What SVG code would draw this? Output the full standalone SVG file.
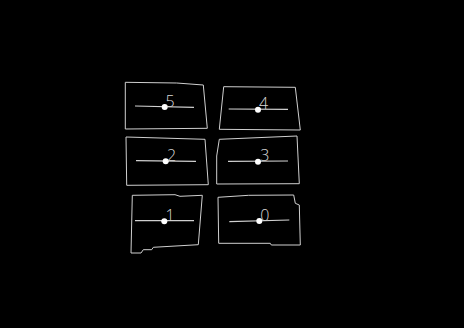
<svg xmlns="http://www.w3.org/2000/svg" width="464" height="328" viewBox="0 0 464 328">
<style>
.b{fill:none;stroke:#d0d0d0;stroke-width:1}
.l{stroke:#d0d0d0;stroke-width:1.2}
.d{fill:#fff}
.t{fill:#d8d8d8;font-family:"Open Sans","Liberation Sans",sans-serif;font-weight:300;font-size:16px}
</style>
<rect x="0" y="0" width="464" height="328" fill="#000"/>
<g id="node5">
<polygon class="b" points="125.3,82.3 176.7,83 203.3,85 207.3,128.3 125.3,129"/>
<line class="l" x1="135" y1="106" x2="194" y2="107.3"/>
<circle class="d" cx="164.7" cy="107" r="3"/>
<text class="t" x="165.5" y="106.5">5</text>
</g>
<g id="node4">
<polygon class="b" points="223.7,86.7 295.3,87.3 300.3,130 219.3,129.3"/>
<line class="l" x1="228.7" y1="109" x2="288" y2="109.3"/>
<circle class="d" cx="258" cy="109.7" r="3"/>
<text class="t" x="259" y="108.5">4</text>
</g>
<g id="node2">
<polygon class="b" points="126,137 205,139.3 208.3,184.7 126.7,185.3"/>
<line class="l" x1="136" y1="160.7" x2="196" y2="161.3"/>
<circle class="d" cx="165.7" cy="161.3" r="3"/>
<text class="t" x="167" y="161">2</text>
</g>
<g id="node3">
<polygon class="b" points="219.3,139.3 297,136 299.3,183.7 216.7,184 216.7,156"/>
<line class="l" x1="228" y1="161.3" x2="288" y2="161"/>
<circle class="d" cx="258" cy="161.7" r="3"/>
<text class="t" x="260.3" y="161.3">3</text>
</g>
<g id="node1">
<polygon class="b" points="132.3,195.3 175,194.7 180,196.3 202.3,195.3 198.3,244.7 153.3,247.3 151.7,249.7 143.3,249.7 141,253 131,253"/>
<line class="l" x1="135" y1="220.7" x2="194" y2="220.7"/>
<circle class="d" cx="164.3" cy="221.3" r="3"/>
<text class="t" x="165.5" y="220.7">1</text>
</g>
<g id="node0">
<polygon class="b" points="218,197.3 248.7,195.3 293.7,195 295.3,203.3 299.3,205 300.3,245 271.3,245 270.3,243.3 218.7,243.3"/>
<line class="l" x1="229.3" y1="221.7" x2="289.3" y2="220"/>
<circle class="d" cx="259.3" cy="221" r="3"/>
<text class="t" x="260.3" y="220.7">0</text>
</g>
<g id="connectors"></g>
</svg>
